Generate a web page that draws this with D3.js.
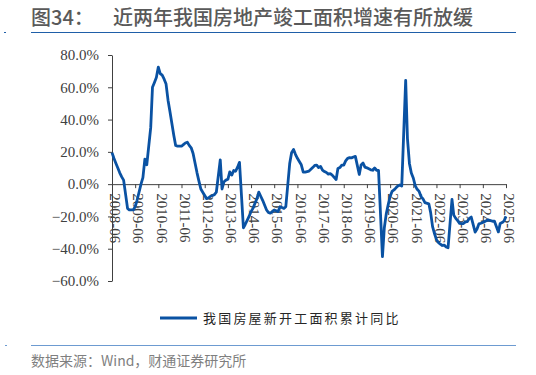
<!DOCTYPE html>
<html>
<head>
<meta charset="utf-8">
<script src="https://cdn.jsdelivr.net/npm/d3@7"></script>
<style>
  body { margin: 0; background: #fff; }
  svg { display: block; }
</style>
</head>
<body>
<div id="chart"></div>
<script>
// Chart data: new-start floor area, cumulative YoY (%), monthly from 2008-06 (no January release)
const years = d3.range(2008, 2026);
const reportMonths = [2, 3, 4, 5, 6, 7, 8, 9, 10, 11, 12];
const growth = [
  19.5, 16, 13, 10, 7, 4.5, 2.5,                                   // 2008-06..12
  -15, -16, -16, -16, -14, -10, -5, 0, 4, 15.5, 12,                // 2009
  35, 60, 63, 66, 72.5, 68.5, 67.5, 65, 62, 52, 45,                // 2010
  30, 24, 23.5, 23.5, 23.5, 24.5, 25.5, 26, 24, 22.5, 19,          // 2011
  7, 2, -3, -5, -7, -9, -8.5, -7.5, -7, -6.5, -5,                  // 2012
  15, -3, 1.5, 2.5, 3, 7.6, 5.6, 8.5, 8, 10.5, 13.5,               // 2013
  -27, -25, -22.5, -20, -17, -15, -12, -9, -5, -7.5, -10,          // 2014
  -16, -17.5, -18, -17, -16, -16.5, -17, -14, -14.5, -15, -14,     // 2015
  13, 19.5, 21.5, 18.5, 16, 14, 12, 7.5, 7.5, 7.8, 8.1,            // 2016
  10.4, 11.6, 11.8, 10.3, 11, 8.7, 7.8, 7.2, 6.2, 6.5, 5.6,        // 2017
  2.9, 9.7, 10.3, 11.8, 11.8, 14.4, 16, 16.4, 16.3, 16.8, 17.2,    // 2018
  6, 11.9, 13.1, 10.5, 10.1, 9.5, 8.9, 8.6, 10, 8.6, 8.5,          // 2019
  -44.9, -27.2, -18.4, -12.8, -7.6, -4.5, -3.6, -2.3, -1.1, -0.5, -1.2, // 2020
  64.3, 28.2, 12.8, 6.9, 3.8, -0.9, -3.2, -4.5, -7.7, -9.1, -11.4, // 2021
  -12.2, -17.5, -26.3, -30.6, -34.4, -36.1, -37.2, -38, -37.8, -38.9, -39.4, // 2022
  -9.4, -19.2, -21.2, -22.6, -24.3, -24.5, -24.4, -23.4, -23.2, -21.2, -20.4, // 2023
  -29.7, -27.8, -24.6, -24.2, -23.7, -23.2, -22.5, -22.2, -22.6, -23, -23, // 2024
  -29.6, -24.4, -23.8, -22.8, -20                                  // 2025-02..06
];
const yTicks = [-60, -40, -20, 0, 20, 40, 60, 80];
const xTickLabels = years.map(y => y + "-06");
const seriesName = "我国房屋新开工面积累计同比";

// Build the monthly periods that the series covers
const parseMonth = d3.timeParse("%Y-%m");
const periods = [];
years.forEach(y => reportMonths.forEach(m => periods.push(new Date(y, m - 1, 1))));
const start = parseMonth("2008-06"), end = parseMonth("2025-06");
const dates = periods.filter(d => d >= start && d <= end);
const data = dates.map((d, i) => ({ date: d, value: growth[i] }));

const W = 536, H = 375;
const svg = d3.select("#chart").append("svg")
    .attr("width", W)
    .attr("height", H);

const serif = "'Liberation Serif', 'Times New Roman', serif";
const cjk = "Noto Sans CJK SC";

// Title block
svg.append("text")
    .attr("x", 31).attr("y", 25)
    .attr("fill", "#595959")
    .attr("font-family", cjk).attr("font-size", 20).attr("font-weight", 500)
    .text("图34：");
svg.append("text")
    .attr("x", 113).attr("y", 25)
    .attr("fill", "#595959")
    .attr("font-family", cjk).attr("font-size", 20).attr("font-weight", 500)
    .text("近两年我国房地产竣工面积增速有所放缓");
svg.append("line")
    .attr("x1", 31).attr("x2", 516).attr("y1", 32.5).attr("y2", 32.5)
    .attr("stroke", "#1f5fa8").attr("stroke-width", 1.2);
svg.append("rect").attr("x", 4).attr("y", 32).attr("width", 2).attr("height", 1).attr("fill", "#1f5fa8");

// Scales
const x = d3.scaleTime().domain([start, end]).range([112, 506]);
const y = d3.scaleLinear().domain([-60, 80]).range([281, 55]);

// Y axis
const yAxis = svg.append("g")
    .attr("transform", `translate(${x.range()[0]},0)`)
    .call(d3.axisLeft(y).tickValues(yTicks).tickSize(4).tickSizeOuter(0)
        .tickFormat(d => d3.format(".1f")(d) + "%"))
    .attr("font-family", serif).attr("font-size", 15);
yAxis.select(".domain").attr("stroke", "#404040");
yAxis.selectAll(".tick line").attr("stroke", "#404040");
yAxis.selectAll("text")
    .attr("x", -13)
    .attr("fill", "#404040");

// X axis on the zero line
const xAxis = svg.append("g")
    .attr("transform", `translate(0,${y(0)})`)
    .call(d3.axisBottom(x).tickValues(xTickLabels.map(parseMonth)).tickSize(4).tickSizeOuter(0)
        .tickFormat(d3.timeFormat("%Y-%m")))
    .attr("font-family", serif).attr("font-size", 15);
xAxis.select(".domain").attr("stroke", "#404040");
xAxis.selectAll(".tick line").attr("stroke", "#404040");
xAxis.selectAll("text")
    .attr("transform", "rotate(90)")
    .attr("x", 9).attr("y", 0).attr("dy", "0.15em")
    .attr("text-anchor", "start")
    .attr("fill", "#404040");

// Series line
const line = d3.line().x(d => x(d.date)).y(d => y(d.value));
svg.append("path")
    .datum(data)
    .attr("fill", "none")
    .attr("stroke", "#0a52a3")
    .attr("stroke-width", 2.8)
    .attr("stroke-linejoin", "round")
    .attr("d", line);

// Legend
svg.append("line")
    .attr("x1", 160).attr("x2", 197).attr("y1", 318).attr("y2", 318)
    .attr("stroke", "#0a52a3").attr("stroke-width", 2.8);
svg.append("text")
    .attr("x", 203).attr("y", 322.5)
    .attr("fill", "#262626")
    .attr("font-family", cjk).attr("font-size", 13).style("letter-spacing", "2.2px")
    .text(seriesName);

// Footer
svg.append("line")
    .attr("x1", 31).attr("x2", 516).attr("y1", 345.5).attr("y2", 345.5)
    .attr("stroke", "#6d9bd1").attr("stroke-width", 1);
svg.append("rect").attr("x", 5).attr("y", 345).attr("width", 2).attr("height", 1).attr("fill", "#6d9bd1");
svg.append("text")
    .attr("x", 31).attr("y", 366)
    .attr("fill", "#7f7f7f")
    .attr("font-family", cjk).attr("font-size", 14)
    .text("数据来源：Wind，财通证券研究所");
</script>
</body>
</html>
